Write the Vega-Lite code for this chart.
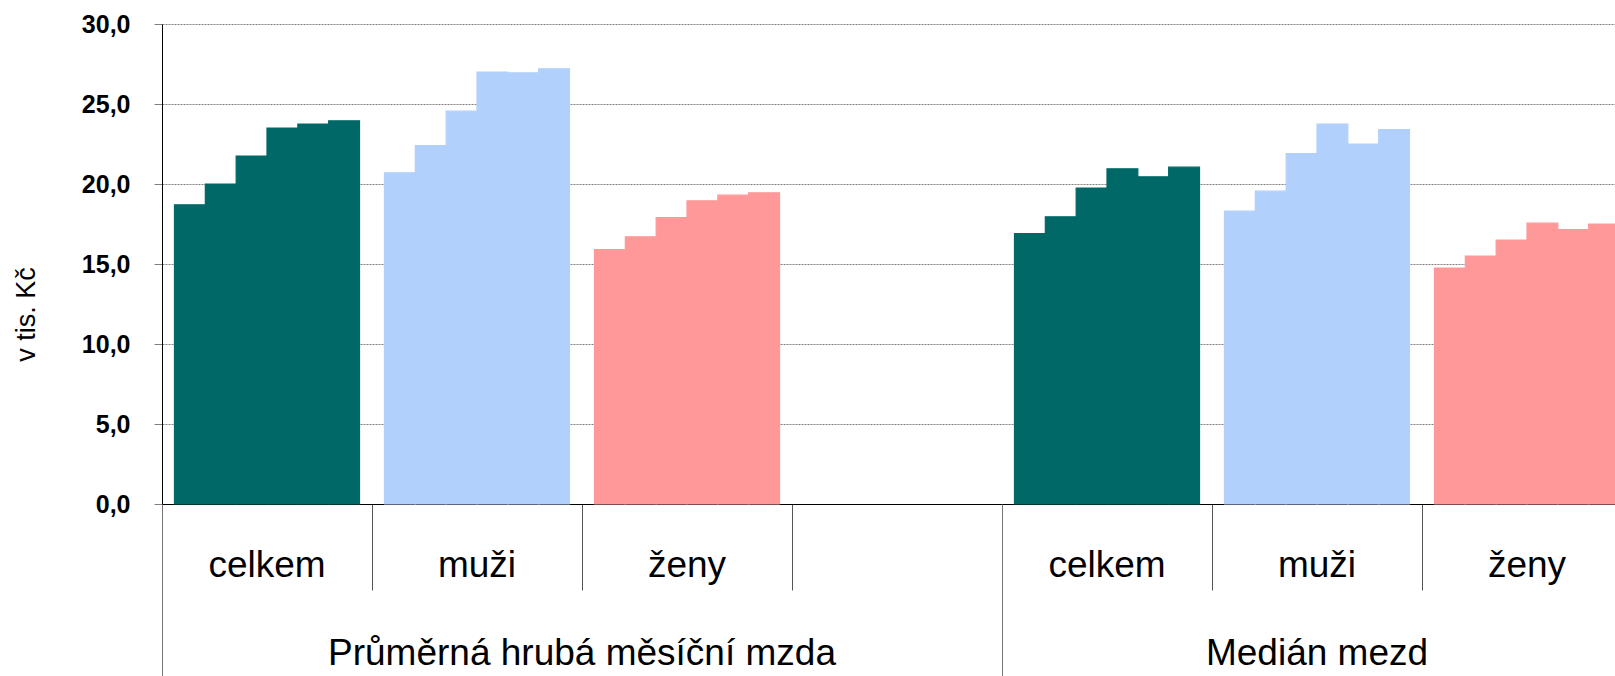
{
  "$schema": "https://vega.github.io/schema/vega-lite/v6.json",
  "autosize": {"type": "none"},
  "padding": {"left": 162, "top": 24, "right": 0, "bottom": 172},
  "width": 1453,
  "height": 480,
  "background": "white",
  "config": {
    "view": {"stroke": null},
    "font": "Liberation Sans"
  },
  "data": {
    "values": [
      {"kat": "P|celkem", "pohlavi": "celkem", "rok": 1, "mzda": 18.7},
      {"kat": "P|celkem", "pohlavi": "celkem", "rok": 2, "mzda": 20.0},
      {"kat": "P|celkem", "pohlavi": "celkem", "rok": 3, "mzda": 21.75},
      {"kat": "P|celkem", "pohlavi": "celkem", "rok": 4, "mzda": 23.5},
      {"kat": "P|celkem", "pohlavi": "celkem", "rok": 5, "mzda": 23.75},
      {"kat": "P|celkem", "pohlavi": "celkem", "rok": 6, "mzda": 23.95},
      {"kat": "P|muži", "pohlavi": "muži", "rok": 1, "mzda": 20.7},
      {"kat": "P|muži", "pohlavi": "muži", "rok": 2, "mzda": 22.4},
      {"kat": "P|muži", "pohlavi": "muži", "rok": 3, "mzda": 24.55},
      {"kat": "P|muži", "pohlavi": "muži", "rok": 4, "mzda": 27.0},
      {"kat": "P|muži", "pohlavi": "muži", "rok": 5, "mzda": 26.95},
      {"kat": "P|muži", "pohlavi": "muži", "rok": 6, "mzda": 27.2},
      {"kat": "P|ženy", "pohlavi": "ženy", "rok": 1, "mzda": 15.9},
      {"kat": "P|ženy", "pohlavi": "ženy", "rok": 2, "mzda": 16.7},
      {"kat": "P|ženy", "pohlavi": "ženy", "rok": 3, "mzda": 17.9},
      {"kat": "P|ženy", "pohlavi": "ženy", "rok": 4, "mzda": 18.95},
      {"kat": "P|ženy", "pohlavi": "ženy", "rok": 5, "mzda": 19.3},
      {"kat": "P|ženy", "pohlavi": "ženy", "rok": 6, "mzda": 19.45},
      {"kat": "M|celkem", "pohlavi": "celkem", "rok": 1, "mzda": 16.9},
      {"kat": "M|celkem", "pohlavi": "celkem", "rok": 2, "mzda": 17.95},
      {"kat": "M|celkem", "pohlavi": "celkem", "rok": 3, "mzda": 19.75},
      {"kat": "M|celkem", "pohlavi": "celkem", "rok": 4, "mzda": 20.95},
      {"kat": "M|celkem", "pohlavi": "celkem", "rok": 5, "mzda": 20.45},
      {"kat": "M|celkem", "pohlavi": "celkem", "rok": 6, "mzda": 21.05},
      {"kat": "M|muži", "pohlavi": "muži", "rok": 1, "mzda": 18.3},
      {"kat": "M|muži", "pohlavi": "muži", "rok": 2, "mzda": 19.55},
      {"kat": "M|muži", "pohlavi": "muži", "rok": 3, "mzda": 21.9},
      {"kat": "M|muži", "pohlavi": "muži", "rok": 4, "mzda": 23.75},
      {"kat": "M|muži", "pohlavi": "muži", "rok": 5, "mzda": 22.5},
      {"kat": "M|muži", "pohlavi": "muži", "rok": 6, "mzda": 23.4},
      {"kat": "M|ženy", "pohlavi": "ženy", "rok": 1, "mzda": 14.75},
      {"kat": "M|ženy", "pohlavi": "ženy", "rok": 2, "mzda": 15.5},
      {"kat": "M|ženy", "pohlavi": "ženy", "rok": 3, "mzda": 16.5},
      {"kat": "M|ženy", "pohlavi": "ženy", "rok": 4, "mzda": 17.55},
      {"kat": "M|ženy", "pohlavi": "ženy", "rok": 5, "mzda": 17.15},
      {"kat": "M|ženy", "pohlavi": "ženy", "rok": 6, "mzda": 17.5}
    ]
  },
  "encoding": {
    "y": {
      "field": "mzda",
      "type": "quantitative",
      "scale": {"domain": [0, 30], "nice": false, "zero": true},
      "axis": {
        "title": "v tis. Kč",
        "titleFont": "Liberation Sans",
        "titleFontSize": 27,
        "titleFontWeight": "normal",
        "titleColor": "#000000",
        "titleAngle": -90,
        "titleX": -136,
        "titleY": 290,
        "titleAlign": "center",
        "titleBaseline": "middle",
        "values": [0, 5, 10, 15, 20, 25, 30],
        "labelExpr": "replace(format(datum.value, '.1f'), '.', ',')",
        "labelFont": "Liberation Sans",
        "labelFontSize": 25,
        "labelFontWeight": "bold",
        "labelColor": "#000000",
        "labelPadding": 24,
        "labelBaseline": "middle",
        "tickSize": 8,
        "tickColor": "#808080",
        "domainColor": "#000000",
        "grid": true,
        "gridColor": "#808080",
        "gridDash": [2, 1],
        "gridWidth": 1
      }
    },
    "xOffset": {
      "field": "rok",
      "type": "ordinal",
      "scale": {"paddingInner": 0, "paddingOuter": 0.405}
    },
    "color": {
      "field": "pohlavi",
      "type": "nominal",
      "scale": {"domain": ["celkem", "muži", "ženy"], "range": ["#006866", "#B1D0FB", "#FF9999"]},
      "legend": null
    },
    "stroke": {
      "field": "pohlavi",
      "type": "nominal",
      "scale": {"domain": ["celkem", "muži", "ženy"], "range": ["#006866", "#B1D0FB", "#FF9999"]},
      "legend": null
    }
  },
  "layer": [
    {
      "mark": {"type": "bar", "strokeWidth": 1.2},
      "encoding": {
        "x": {
          "field": "kat",
          "type": "nominal",
          "scale": {
            "domain": ["P|celkem", "P|muži", "P|ženy", "P|", "M|celkem", "M|muži", "M|ženy"],
            "range": [0, 1470],
            "paddingInner": 0,
            "paddingOuter": 0
          },
          "axis": {
            "orient": "bottom",
            "title": null,
            "bandPosition": 0,
            "labelOffset": 0,
            "tickSize": 86,
            "tickColor": "#555555",
            "domainColor": "#000000",
            "labelPadding": -14,
            "labelBaseline": "alphabetic",
            "labelFont": "Liberation Sans",
            "labelFontSize": 37,
            "labelColor": "#000000",
            "labelAngle": 0,
            "labelLimit": 0,
            "labelOverlap": false,
            "labelBound": false,
            "labelFlush": false,
            "labelExpr": "split(datum.value, '|')[1]",
            "grid": false
          }
        }
      }
    },
    {
      "mark": {"type": "bar", "opacity": 0},
      "encoding": {
        "x": {
          "field": "kat",
          "type": "nominal",
          "axis": {
            "orient": "bottom",
            "title": null,
            "domain": false,
            "bandPosition": 0,
            "tickSize": 172,
            "tickColor": "#777777",
            "tickOpacity": {"condition": {"test": "datum.value === 'P|celkem' || datum.value === 'M|celkem'", "value": 1}, "value": 0},
            "labelOffset": {"condition": {"test": "datum.value === 'P|ženy'", "value": -105}, "value": 0},
            "labelPadding": -12,
            "labelBaseline": "alphabetic",
            "labelFont": "Liberation Sans",
            "labelFontSize": 37,
            "labelColor": "#000000",
            "labelAngle": 0,
            "labelLimit": 0,
            "labelOverlap": false,
            "labelBound": false,
            "labelFlush": false,
            "labelExpr": "datum.value === 'P|ženy' ? 'Průměrná hrubá měsíční mzda' : (datum.value === 'M|muži' ? 'Medián mezd' : '')",
            "grid": false
          }
        }
      }
    }
  ],
  "resolve": {"axis": {"x": "independent"}}
}
